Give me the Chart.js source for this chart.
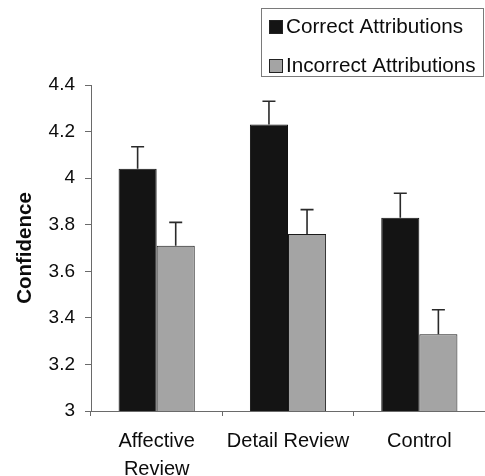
<!DOCTYPE html>
<html>
<head>
<meta charset="utf-8">
<script src="https://cdn.jsdelivr.net/npm/chart.js@4/dist/chart.umd.min.js"></script>
<style>
  html, body { margin: 0; padding: 0; background: #fff; }
  #wrap { width: 485px; height: 476px; position: relative; }
</style>
</head>
<body>
<div id="wrap"><canvas id="c" width="485" height="476"></canvas></div>
<script>
const categories = [["Affective", "Review"], "Detail Review", "Control"];
const seriesNames = ["Correct Attributions", "Incorrect Attributions"];
const correctValues = [4.04, 4.23, 3.83];
const incorrectValues = [3.71, 3.76, 3.33];
const correctErrors = [0.095, 0.10, 0.105];
const incorrectErrors = [0.10, 0.105, 0.105];
const yTicks = [3, 3.2, 3.4, 3.6, 3.8, 4, 4.2, 4.4];
const yTitle = "Confidence";

const FONT = "'Liberation Sans', Arial, Helvetica, sans-serif";
const INK = "#0c0c0c";
const AXIS = "#6a6a6a";

const errorBarPlugin = {
  id: 'errorBars',
  afterDatasetsDraw(chart) {
    const ctx = chart.ctx;
    const yScale = chart.scales.y;
    chart.data.datasets.forEach((ds, di) => {
      const meta = chart.getDatasetMeta(di);
      meta.data.forEach((bar, i) => {
        const v = ds.data[i];
        const e = ds.errors[i];
        const yTop = yScale.getPixelForValue(v + e);
        const yBase = yScale.getPixelForValue(v);
        ctx.save();
        ctx.strokeStyle = "#2a2a2a";
        ctx.lineWidth = 1.6;
        ctx.beginPath();
        ctx.moveTo(bar.x, yBase);
        ctx.lineTo(bar.x, yTop);
        ctx.moveTo(bar.x - 6.5, yTop);
        ctx.lineTo(bar.x + 6.5, yTop);
        ctx.stroke();
        ctx.restore();
      });
    });
  }
};

const boxLegendPlugin = {
  id: 'boxLegend',
  afterDraw(chart) {
    const ctx = chart.ctx;
    ctx.save();
    ctx.strokeStyle = "#7a7a7a";
    ctx.lineWidth = 1;
    ctx.strokeRect(261.5, 8.5, 222, 68);
    const rows = [{ sq: 20, base: 33 }, { sq: 59, base: 72 }];
    chart.data.datasets.forEach((ds, i) => {
      const r = rows[i];
      ctx.fillStyle = ds.backgroundColor;
      ctx.fillRect(269, r.sq, 14, 14);
      ctx.strokeStyle = "#222";
      ctx.lineWidth = 1;
      ctx.strokeRect(269.5, r.sq + 0.5, 13, 13);
      ctx.fillStyle = INK;
      ctx.font = "20.7px " + FONT;
      ctx.textBaseline = "alphabetic";
      ctx.textAlign = "left";
      ctx.fillText(ds.label, 286, r.base);
    });
    ctx.restore();
  }
};

new Chart(document.getElementById('c'), {
  type: 'bar',
  data: {
    labels: categories,
    datasets: [
      { label: seriesNames[0], data: correctValues, errors: correctErrors,
        backgroundColor: "#141414", borderColor: "#111", borderWidth: 1 },
      { label: seriesNames[1], data: incorrectValues, errors: incorrectErrors,
        backgroundColor: "#a4a4a4", borderColor: "#1a1a1a", borderWidth: 1 }
    ]
  },
  options: {
    responsive: false,
    animation: false,
    devicePixelRatio: 1,
    layout: { padding: { top: 85, right: 0, left: 0, bottom: 0 } },
    datasets: { bar: { barPercentage: 1, categoryPercentage: 0.58 } },
    plugins: { legend: { display: false }, tooltip: { enabled: false } },
    scales: {
      x: {
        grid: { display: true, drawOnChartArea: false, offset: true, color: AXIS, tickLength: 5, lineWidth: 1 },
        border: { display: true, color: AXIS, width: 1 },
        ticks: { color: INK, font: { family: FONT, size: 20, lineHeight: 1.4 }, padding: 11, maxRotation: 0, autoSkip: false },
        afterFit(scale) { scale.height = 65; }
      },
      y: {
        min: 3, max: 4.4,
        afterBuildTicks(scale) { scale.ticks = yTicks.map(v => ({ value: v })); },
        grid: { display: true, drawOnChartArea: false, color: AXIS, tickLength: 6, lineWidth: 1 },
        border: { display: true, color: AXIS, width: 1 },
        ticks: { color: INK, font: { family: FONT, size: 19 }, padding: 10,
                 callback: (v) => String(Math.round(v * 10) / 10) },
        title: { display: true, text: yTitle, color: INK, font: { family: FONT, size: 20.5, weight: 'bold' }, padding: { top: 13, bottom: 0 } },
        afterFit(scale) { scale.width = 91; }
      }
    }
  },
  plugins: [errorBarPlugin, boxLegendPlugin]
});
</script>
</body>
</html>
